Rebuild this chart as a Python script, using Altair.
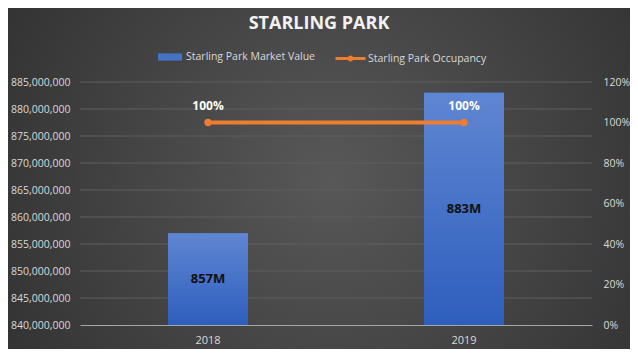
import altair as alt
import pandas as pd

years = ["2018", "2019"]
market_value = [857000000, 883000000]
occupancy = [1.0, 1.0]
value_labels = ["857M", "883M"]
occupancy_labels = ["100%", "100%"]
left_ticks = [840000000, 845000000, 850000000, 855000000, 860000000,
              865000000, 870000000, 875000000, 880000000, 885000000]
right_ticks = [0, 0.2, 0.4, 0.6, 0.8, 1.0, 1.2]

mv_name = "Starling Park Market Value"
occ_name = "Starling Park Occupancy"

df = pd.DataFrame({
    "year": years,
    "mv": market_value,
    "occ": occupancy,
    "mv_label": value_labels,
    "occ_label": occupancy_labels,
})
grid_df = pd.DataFrame({"g": left_ticks[1:]})

W, H = 512, 243
LEFT_MIN, LEFT_MAX = left_ticks[0], left_ticks[-1]
LABEL_COLOR = "#d9d9d9"
FONT = "Open Sans"

x_enc = alt.X("year:N", title=None,
              scale=alt.Scale(paddingInner=0, paddingOuter=0),
              axis=alt.Axis(labelAngle=0, ticks=False, domain=True, domainColor="#a6a6a6",
                            labelColor=LABEL_COLOR, labelFontSize=11, labelFont=FONT,
                            labelPadding=9, grid=False, zindex=1))

y_left_scale = alt.Scale(domain=[LEFT_MIN, LEFT_MAX], zero=False, nice=False)
y_left_axis = alt.Axis(values=left_ticks, format=",d",
                       ticks=False, domain=False, grid=False,
                       labelColor=LABEL_COLOR, labelFontSize=10.5, labelFont=FONT,
                       labelPadding=10, title=None, zindex=1)

base = alt.Chart(df)

bg = base.mark_rect(
    fill=alt.RadialGradient(
        gradient="radial", x1=0.52, y1=0.5, r1=0, x2=0.52, y2=0.5, r2=0.75,
        stops=[alt.GradientStop(offset=0, color="#585858"),
               alt.GradientStop(offset=1, color="#282828")]),
).encode(x=alt.value(-80), x2=alt.value(560), y=alt.value(-82), y2=alt.value(275))

grid = alt.Chart(grid_df).mark_rule(color="#5e5e5e", strokeWidth=1).encode(
    y=alt.Y("g:Q", scale=y_left_scale, axis=y_left_axis),
    x=alt.value(0), x2=alt.value(W),
)

bars_legend = base.mark_bar(size=80).transform_calculate(s="'" + mv_name + "'").encode(
    x=x_enc,
    y=alt.Y("mv:Q", scale=y_left_scale, axis=y_left_axis),
    y2=alt.datum(LEFT_MIN),
    fill=alt.Fill("s:N", scale=alt.Scale(domain=[mv_name], range=["#4472C4"]),
                  legend=alt.Legend(orient="none", legendX=78, legendY=-37, title=None,
                                    padding=0, symbolType="M-1,-0.3H1V0.3H-1Z", symbolSize=576,
                                    labelColor=LABEL_COLOR, labelFontSize=10.5, labelFont=FONT,
                                    labelOffset=4, symbolStrokeWidth=0)),
)

bars = base.mark_bar(
    size=80,
    fill=alt.LinearGradient(
        gradient="linear", x1=0, y1=0, x2=0, y2=1,
        stops=[alt.GradientStop(offset=0, color="#5f86d2"),
               alt.GradientStop(offset=1, color="#2e5ebd")]),
).encode(
    x=x_enc,
    y=alt.Y("mv:Q", scale=y_left_scale, axis=y_left_axis),
    y2=alt.datum(LEFT_MIN),
)

bar_text = base.transform_calculate(mid="(datum.mv + %d) / 2" % LEFT_MIN).mark_text(
    font=FONT, fontSize=13, fontWeight="bold", color="#111111"
).encode(
    x=x_enc,
    y=alt.Y("mid:Q", scale=y_left_scale, axis=y_left_axis),
    text="mv_label:N",
)

left = alt.layer(bg, grid, bars_legend, bars, bar_text)

y_right_scale = alt.Scale(domain=[right_ticks[0], right_ticks[-1]], nice=False)
y_right_axis = alt.Axis(orient="right", values=right_ticks, format=".0%",
                        ticks=False, domain=False, grid=False,
                        labelColor=LABEL_COLOR, labelFontSize=10.5, labelFont=FONT,
                        labelPadding=11, title=None, zindex=1)

line = base.mark_line(strokeWidth=4).transform_calculate(s2="'" + occ_name + "'").encode(
    x=x_enc,
    y=alt.Y("occ:Q", scale=y_right_scale, axis=y_right_axis),
    stroke=alt.Stroke("s2:N", scale=alt.Scale(domain=[occ_name], range=["#ED7D31"]),
                      legend=alt.Legend(orient="none", legendX=254, legendY=-40, title=None,
                                        padding=0,
                                        symbolType="M-1,0H1M-0.1,0A0.1,0.1 0 1,0 0.1,0A0.1,0.1 0 1,0 -0.1,0",
                                        symbolSize=900, symbolStrokeWidth=3,
                                        labelColor=LABEL_COLOR, labelFontSize=10.5, labelFont=FONT,
                                        labelOffset=1)),
)

points = base.mark_circle(size=55, color="#ED7D31", opacity=1).encode(
    x=x_enc,
    y=alt.Y("occ:Q", scale=y_right_scale, axis=y_right_axis),
)

occ_text = base.mark_text(font=FONT, fontSize=12, fontWeight="bold", color="#ffffff", dy=-17).encode(
    x=x_enc,
    y=alt.Y("occ:Q", scale=y_right_scale, axis=y_right_axis),
    text="occ_label:N",
)

right = alt.layer(line, points, occ_text)

chart = alt.layer(left, right).resolve_scale(y="independent", fill="independent", stroke="independent").properties(
    width=W, height=H,
    title=alt.TitleParams("STARLING  PARK", font=FONT, fontSize=18, fontWeight="bold",
                          color="#f2f2f2", anchor="middle", dx=-17, offset=0, dy=33),
    padding={"left": 72, "top": 74, "right": 38, "bottom": 24},
    autosize=alt.AutoSizeParams(type="none"),
    background="#2b2b2b",
).configure_view(stroke=None)

chart.save("out.html", embed_options={"renderer": "svg", "actions": False})
